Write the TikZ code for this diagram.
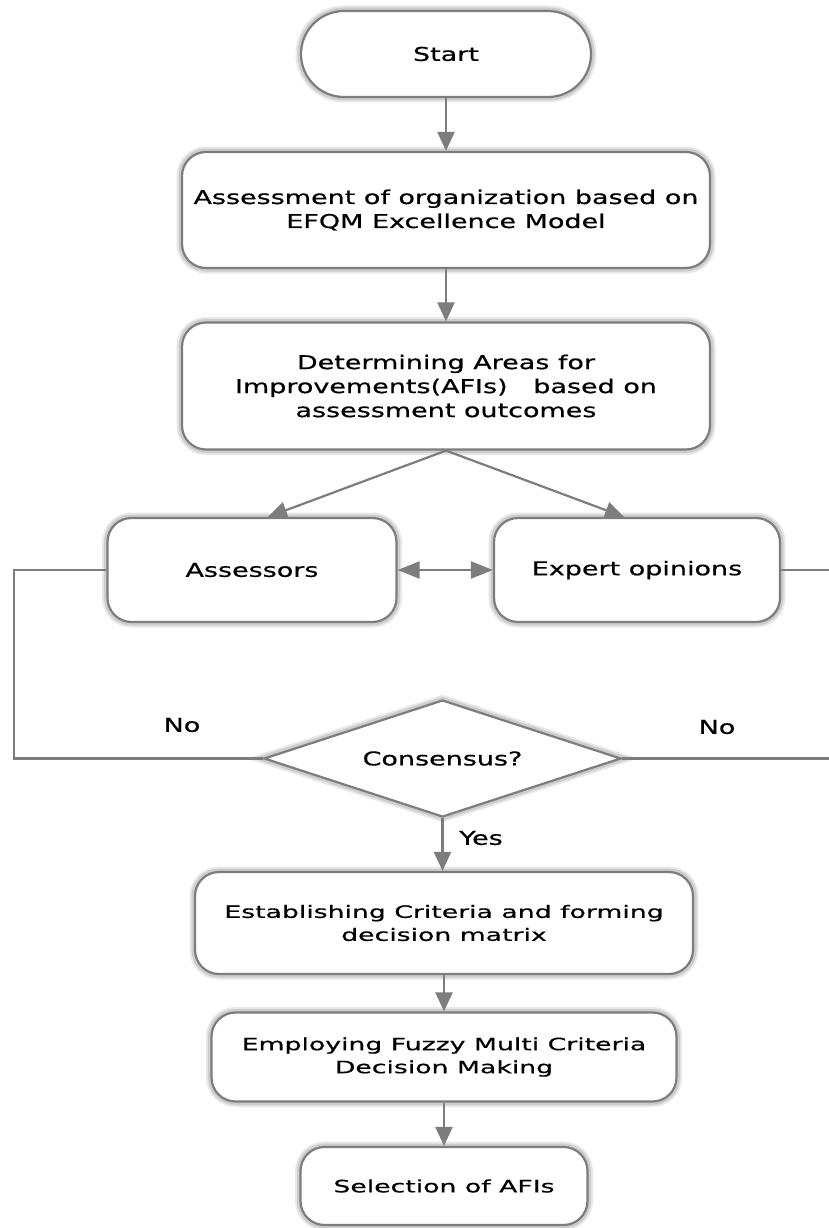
\documentclass[tikz,border=0pt]{standalone}
\usepackage{fontspec}
\usetikzlibrary{shapes.geometric,arrows.meta}
\newfontfamily\fA[FakeStretch=1.42,FakeBold=0.6]{DejaVu Sans}
\newfontfamily\fB[FakeStretch=1.57,FakeBold=0.6]{DejaVu Sans}
\definecolor{linegray}{RGB}{125,125,125}
\definecolor{halo}{RGB}{205,205,205}
\definecolor{halo2}{RGB}{232,232,232}
\tikzset{
  box/.style={draw=linegray, line width=2.2pt, fill=white, align=center, inner sep=0pt,
    rounded corners=24pt, preaction={draw=halo2, line width=11pt}, preaction={draw=halo, line width=7pt}},
  topfont/.style={font=\fA\fontsize{19}{24}\selectfont},
  botfont/.style={font=\fB\fontsize{17}{23}\selectfont},
  conn/.style={draw=linegray, line width=2.2pt},
  arr/.style={conn, -{Triangle[width=17pt,length=19pt]}},
  darr/.style={conn, {Triangle[width=17pt,length=22pt]}-{Triangle[width=17pt,length=22pt]}},
  lbl/.style={inner sep=0pt},
}
\begin{document}
\begin{tikzpicture}[x=1pt,y=-1pt]
\clip (0,0) rectangle (829,1228);
\useasboundingbox (0,0) rectangle (829,1228);
\fill[white] (0,0) rectangle (829,1228);

\node[box, topfont, minimum width=290pt, minimum height=86pt, rounded corners=43pt] (start) at (446,54) {Start};
\node[box, topfont, minimum width=528pt, minimum height=116pt] (assess) at (446,210) {Assessment of organization based on\\EFQM Excellence Model};
\node[box, topfont, minimum width=528pt, minimum height=127pt] (afi) at (446,386) {Determining Areas for\\Improvements(AFIs)\ \ \ based on\\assessment outcomes};
\node[box, topfont, minimum width=289pt, minimum height=104pt] (assr) at (252,570) {Assessors};
\node[box, topfont, minimum width=286pt, minimum height=104pt] (expert) at (637,570) {Expert opinions};
\node[box, topfont, shape=diamond, aspect=3.05, rounded corners=0pt, minimum width=357pt, minimum height=117pt] (cons) at (442.5,758.5) {Consensus?};
\node[box, botfont, minimum width=498pt, minimum height=102pt] (crit) at (444,923) {Establishing Criteria and forming\\decision matrix};
\node[box, botfont, minimum width=465pt, minimum height=89pt] (fuzzy) at (444,1057) {Employing Fuzzy Multi Criteria\\Decision Making};
\node[box, botfont, minimum width=287pt, minimum height=78pt] (sel) at (444,1186) {Selection of AFIs};

\draw[arr] (start.south) -- (assess.north);
\draw[arr] (assess.south) -- (afi.north);
\draw[arr] (afi.south) -- (assr.north -| 268,0);
\draw[arr] (afi.south) -- (expert.north -| 624,0);
\draw[darr] (assr.east) -- (expert.west);
\draw[conn] (assr.west) -- (14,570) -- (14,758.5) -- (cons.west);
\draw[conn] (expert.east) -- (836,570) -- (836,758.5) -- (cons.east);
\draw[arr] (cons.south) -- (cons.south |- crit.north);
\draw[arr] (crit.south) -- (crit.south |- fuzzy.north);
\draw[arr] (fuzzy.south) -- (fuzzy.south |- sel.north);

\node[lbl, topfont] (no1) at (182,725) {No};
\node[lbl, topfont] (no2) at (717,727) {No};
\node[lbl, topfont] (yes) at (481,838) {Yes};
\end{tikzpicture}
\end{document}
